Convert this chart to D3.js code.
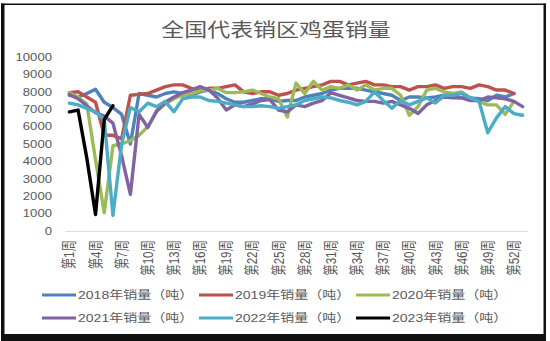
<!DOCTYPE html>
<html><head><meta charset="utf-8">
<script src="https://cdn.jsdelivr.net/npm/d3@7"></script>
<style>html,body{margin:0;padding:0;background:#fff;}svg{display:block;}</style>
</head><body>
<svg id="c" width="550" height="341"></svg>
<script>
const title = "全国代表销区鸡蛋销量";
const weeks = ["第1周","第2周","第3周","第4周","第5周","第6周","第7周","第8周","第9周","第10周","第11周","第12周","第13周","第14周","第15周","第16周","第17周","第18周","第19周","第20周","第21周","第22周","第23周","第24周","第25周","第26周","第27周","第28周","第29周","第30周","第31周","第32周","第33周","第34周","第35周","第36周","第37周","第38周","第39周","第40周","第41周","第42周","第43周","第44周","第45周","第46周","第47周","第48周","第49周","第50周","第51周","第52周","第53周"];
const xTickLabels = ["第1周","第4周","第7周","第10周","第13周","第16周","第19周","第22周","第25周","第28周","第31周","第34周","第37周","第40周","第43周","第46周","第49周","第52周"];
const yTicks = [0,1000,2000,3000,4000,5000,6000,7000,8000,9000,10000];
const seriesNames = ["2018年销量（吨）","2019年销量（吨）","2020年销量（吨）","2021年销量（吨）","2022年销量（吨）","2023年销量（吨）"];
const s2018 = [7800,7700,7900,8150,7400,7100,6700,5000,7900,7800,7700,7900,8000,7900,7800,8000,8100,7900,7600,7400,7400,7500,7600,7600,7450,7500,7500,7700,7800,7900,8100,8200,8200,8200,8100,8000,7900,7800,7500,7700,7700,7650,7700,7800,7700,7650,7650,7600,7500,7800,7700,7900];
const s2019 = [7950,8000,7700,7400,5500,5500,5300,7800,7850,7900,8100,8300,8400,8400,8200,8100,8200,8200,8300,8400,8000,7900,8000,8000,7800,7900,8100,8200,8300,8400,8600,8600,8400,8500,8600,8400,8400,8300,8300,8100,8300,8300,8400,8200,8300,8300,8200,8400,8300,8100,8100,7900];
const s2020 = [7950,7700,7300,4100,1050,4900,5000,5200,5500,6000,6850,7300,7600,7800,7900,8050,8100,8200,7950,7950,8000,8100,7900,7700,7600,6550,8500,7900,8600,8100,8300,8200,8400,8100,8400,8100,8200,8200,7800,6650,7150,8100,8200,8000,7900,8000,7650,7450,7250,7250,6700,7450];
const s2021 = [7850,7600,7200,6800,6600,6200,4300,2100,6700,5950,6900,7400,7700,7950,8100,8300,8100,7650,6950,7250,7150,7300,7500,7550,6950,6850,7250,7150,7350,7500,7950,7800,7650,7500,7450,7450,7350,7450,7250,7050,6750,7250,7500,7700,7650,7650,7500,7500,7700,7650,7600,7450,7150];
const s2022 = [7350,7250,7050,6850,6400,900,5000,7100,6850,7350,7150,7450,6850,7600,7700,7700,7500,7450,7350,7250,7150,7150,7200,7150,7050,7150,7250,7500,7600,7700,7650,7500,7400,7250,7450,8000,7500,7050,7500,7250,7450,7650,7350,7800,7800,7900,7650,7450,5650,6500,7150,6750,6650];
const s2023 = [6850,6950,4200,950,6400,7200];
const colors = ["#4F81BD","#C0504D","#9BBB59","#8064A2","#4BACC6","#000000"];

const allSeries = [s2018,s2019,s2020,s2021,s2022,s2023];
const svg = d3.select("#c");
const FONT = "'Liberation Sans','Noto Sans CJK SC',sans-serif";
const SX = 1.22;

svg.append("rect").attr("width",550).attr("height",341).attr("fill","#fff");

const x = d3.scaleBand().domain(weeks).range([65,527]);
const xc = w => x(w) + x.bandwidth()/2;
const y = d3.scaleLinear().domain([0,10000]).range([231,57]);

// title
svg.append("g").attr("transform",`translate(276,37) scale(${SX},1)`)
  .append("text").attr("text-anchor","middle").attr("font-family",FONT)
  .attr("font-size",18.8).attr("fill","#595959").text(title);

// y axis
const ya = svg.append("g").attr("transform","translate(52,0)")
  .call(d3.axisLeft(y).tickValues(yTicks).tickSize(0).tickPadding(0).tickFormat(d3.format("d")));
ya.select(".domain").remove();
ya.selectAll("text").attr("x",0).attr("transform","scale(1.25,1)")
  .attr("font-family",FONT).attr("font-size",10.5).attr("fill","#595959");

// x axis
const xa = svg.append("g").attr("transform","translate(0,231)")
  .call(d3.axisBottom(x).tickValues(xTickLabels).tickSize(0).tickSizeOuter(0));
xa.select(".domain").attr("stroke","#D9D9D9").attr("stroke-width",1);
xa.selectAll("text").attr("x",0).attr("y",0).attr("dy","0.35em")
  .attr("text-anchor","end")
  .attr("transform",`translate(0,9) scale(1.25,1) rotate(-90)`)
  .attr("font-family",FONT).attr("font-size",11.5).attr("fill","#595959");

// lines
const line = d3.line().x((d,i)=>xc(weeks[i])).y(d=>y(d));
allSeries.forEach((s,k)=>{
  svg.append("path").datum(s).attr("d",line).attr("fill","none")
    .attr("stroke",colors[k]).attr("stroke-width",3.4)
    .attr("stroke-linejoin","round").attr("stroke-linecap","round");
});

// legend
const legX = [42,199,356], legY = [295,318];
seriesNames.forEach((n,k)=>{
  const lx = legX[k%3], ly = legY[Math.floor(k/3)];
  svg.append("line").attr("x1",lx).attr("x2",lx+34).attr("y1",ly).attr("y2",ly)
    .attr("stroke",colors[k]).attr("stroke-width",3);
  svg.append("g").attr("transform",`translate(${lx+36},${ly}) scale(${SX},1)`)
    .append("text").attr("dy","0.35em").attr("font-family",FONT)
    .attr("font-size",11.5).attr("fill","#595959").text(n);
});

// frame
svg.append("rect").attr("x",1).attr("y",3.5).attr("width",545).attr("height",1.5).attr("fill","#111");
svg.append("rect").attr("x",1).attr("y",3.5).attr("width",3.5).attr("height",338).attr("fill","#111");
svg.append("rect").attr("x",543.5).attr("y",3.5).attr("width",2.5).attr("height",338).attr("fill","#111");
svg.append("rect").attr("x",1).attr("y",334).attr("width",545).attr("height",7).attr("fill","#111");
</script>
</body></html>
